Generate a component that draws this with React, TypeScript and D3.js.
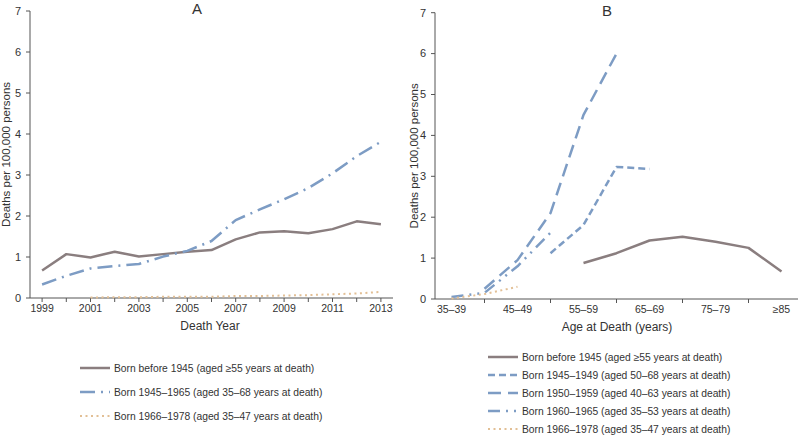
import React from "react";
import * as d3 from "d3";

const yearsA = ["1999","2000","2001","2002","2003","2004","2005","2006","2007","2008","2009","2010","2011","2012","2013"];
const bornBefore1945A = [0.67,1.07,0.99,1.13,1.01,1.07,1.13,1.17,1.43,1.60,1.63,1.58,1.68,1.87,1.80];
const born1945to1965A = [0.33,0.54,0.72,0.78,0.83,1.01,1.15,1.39,1.90,2.16,2.41,2.68,3.04,3.46,3.81];
const born1966to1978A: (number | null)[] = [null,null,0.01,0.02,0.02,0.03,0.03,0.03,0.05,0.05,0.06,0.07,0.09,0.11,0.15];

const agesB = ["35–39","40–44","45–49","50–54","55–59","60–64","65–69","70–74","75–79","80–84","≥85"];
const bornBefore1945B: (number | null)[] = [null,null,null,null,0.88,1.12,1.43,1.52,1.40,1.25,0.67];
const born1945to1949B: (number | null)[] = [null,null,null,1.12,1.81,3.23,3.18,null,null,null,null];
const born1950to1959B: (number | null)[] = [null,0.25,0.95,2.10,4.50,6.00,null,null,null,null,null];
const born1960to1965B: (number | null)[] = [0.05,0.15,0.80,1.62,null,null,null,null,null,null,null];
const born1966to1978B: (number | null)[] = [0.01,0.12,0.30,null,null,null,null,null,null,null,null];

const yTicks = [0,1,2,3,4,5,6,7];

const GRAY = "#8a7e7f";
const BLUE = "#7d9cc4";
const TAN = "#e2bf95";
const AXIS = "#555";
const TEXT = "#333";
const FONT = "'Liberation Sans', Arial, sans-serif";

type Series = { label: string; values: (number | null)[]; color: string; dash: string | null; width: number };

const seriesA: Series[] = [
  { label: "Born before 1945 (aged ≥55 years at death)", values: bornBefore1945A, color: GRAY, dash: null, width: 2.5 },
  { label: "Born 1945–1965 (aged 35–68 years at death)", values: born1945to1965A, color: BLUE, dash: "15,6,2,6", width: 2.5 },
  { label: "Born 1966–1978 (aged 35–47 years at death)", values: born1966to1978A, color: TAN, dash: "2,3.5", width: 2 },
];

const seriesB: Series[] = [
  { label: "Born before 1945 (aged ≥55 years at death)", values: bornBefore1945B, color: GRAY, dash: null, width: 2.5 },
  { label: "Born 1945–1949 (aged 50–68 years at death)", values: born1945to1949B, color: BLUE, dash: "7,4", width: 2.5 },
  { label: "Born 1950–1959 (aged 40–63 years at death)", values: born1950to1959B, color: BLUE, dash: "13,7", width: 2.5 },
  { label: "Born 1960–1965 (aged 35–53 years at death)", values: born1960to1965B, color: BLUE, dash: "12,6,2,6,2,6", width: 2.5 },
  { label: "Born 1966–1978 (aged 35–47 years at death)", values: born1966to1978B, color: TAN, dash: "2,3.5", width: 2 },
];

function Panel(props: {
  cats: string[]; series: Series[]; x0: number; x1: number; yBottom: number; yTop: number;
  title: string; titleX: number; xTitle: string; xTitleX: number;
  labelEvery: (i: number) => boolean; tickEvery: (i: number) => boolean;
  yTitleX: number; legendX: number; legendY: number; legendStep: number;
}) {
  const { cats, series, x0, x1, yBottom, yTop } = props;
  const x = d3.scalePoint<string>().domain(cats).range([x0, x1]).padding(0.5);
  const y = d3.scaleLinear().domain([0, 7]).range([yBottom, yTop]);
  const line = d3.line<number | null>()
    .defined((d) => d !== null)
    .x((_, i) => x(cats[i]) as number)
    .y((d) => y(d as number));
  return (
    <g>
      <text x={props.titleX} y={yTop + 3} textAnchor="middle" fontSize={15} fill={TEXT} fontFamily={FONT}>{props.title}</text>
      <line x1={x0} x2={x0} y1={yTop} y2={yBottom} stroke={AXIS} strokeWidth={1} />
      {yTicks.map((t) => (
        <g key={t}>
          <line x1={x0 - 4} x2={x0} y1={y(t)} y2={y(t)} stroke={AXIS} />
          <text x={x0 - 9} y={y(t)} dy="0.35em" textAnchor="end" fontSize={11} fill={TEXT} fontFamily={FONT}>{t}</text>
        </g>
      ))}
      <text transform={`translate(${props.yTitleX},${(yTop + yBottom) / 2}) rotate(-90)`} textAnchor="middle" fontSize={11.5} fill={TEXT} fontFamily={FONT}>Deaths per 100,000 persons</text>
      <line x1={x0} x2={x1} y1={yBottom} y2={yBottom} stroke={AXIS} strokeWidth={1} />
      {cats.map((c, i) => (
        <g key={c}>
          {props.tickEvery(i) && <line x1={x(c)} x2={x(c)} y1={yBottom} y2={yBottom + 4} stroke={AXIS} />}
          {props.labelEvery(i) && (
            <text x={x(c)} y={yBottom + 14} textAnchor="middle" fontSize={10.5} fill={TEXT} fontFamily={FONT}>{c}</text>
          )}
        </g>
      ))}
      <text x={props.xTitleX} y={yBottom + 32} textAnchor="middle" fontSize={12} fill={TEXT} fontFamily={FONT}>{props.xTitle}</text>
      {series.map((s, i) => (
        <path key={i} d={line(s.values) || ""} fill="none" stroke={s.color} strokeWidth={s.width}
          strokeDasharray={s.dash || undefined} strokeLinejoin="round" />
      ))}
      {series.map((s, i) => {
        const ly = props.legendY + i * props.legendStep;
        return (
          <g key={"l" + i}>
            <line x1={props.legendX} x2={props.legendX + 30} y1={ly} y2={ly} stroke={s.color} strokeWidth={s.width}
              strokeDasharray={s.dash || undefined} />
            <text x={props.legendX + 34} y={ly} dy="0.35em" fontSize={10.3} fill={TEXT} fontFamily={FONT}>{s.label}</text>
          </g>
        );
      })}
    </g>
  );
}

export default function App() {
  return (
    <svg width={800} height={436} style={{ position: "fixed", left: 0, top: 0, background: "#fff" }}>
      <rect width={800} height={436} fill="#fff" />
      <Panel cats={yearsA} series={seriesA} x0={30} x1={393} yBottom={298} yTop={11}
        title="A" titleX={197} xTitle="Death Year" xTitleX={210}
        labelEvery={(i) => i % 2 === 0} tickEvery={() => true}
        yTitleX={10} legendX={80} legendY={368} legendStep={24} />
      <Panel cats={agesB} series={seriesB} x0={435} x1={798} yBottom={299} yTop={12.7}
        title="B" titleX={607} xTitle="Age at Death (years)" xTitleX={617}
        labelEvery={(i) => i % 2 === 0} tickEvery={(i) => i % 2 === 1}
        yTitleX={418} legendX={488} legendY={357} legendStep={18} />
    </svg>
  );
}
